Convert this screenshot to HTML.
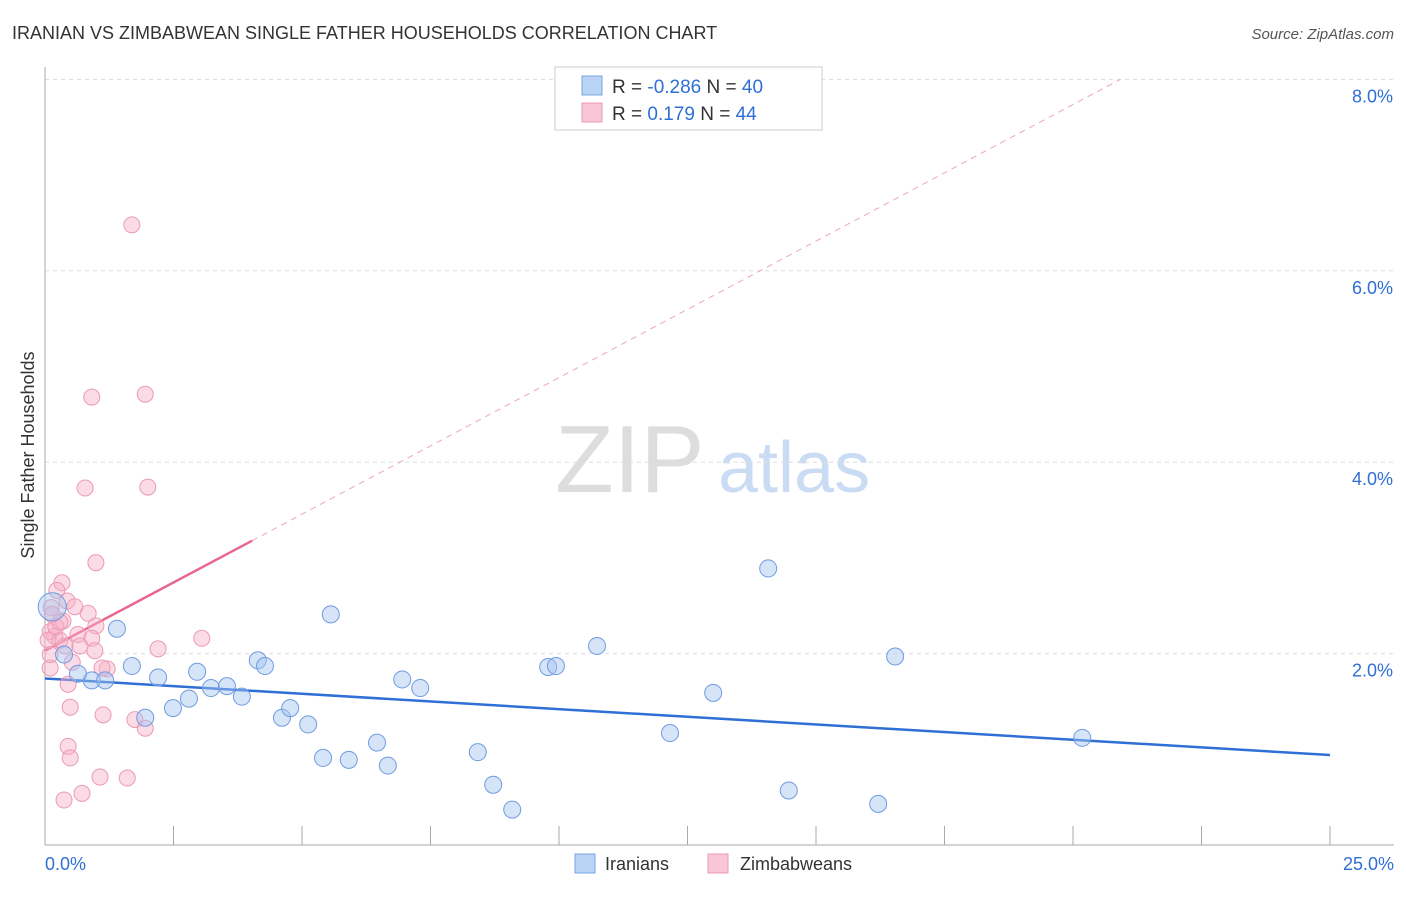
<!DOCTYPE html>
<html><head><meta charset="utf-8"><style>
body{margin:0;background:#fff;font-family:"Liberation Sans",sans-serif}
svg text{font-family:"Liberation Sans",sans-serif}
</style></head><body>
<svg id="c" width="1406" height="892">
<text x="12" y="39" font-size="18" fill="#333">IRANIAN VS ZIMBABWEAN SINGLE FATHER HOUSEHOLDS CORRELATION CHART</text>
<text x="1394" y="39" font-size="15" fill="#555" text-anchor="end" font-style="italic">Source: ZipAtlas.com</text>
<text x="34" y="455" font-size="18" fill="#333" transform="rotate(-90 34 455)" text-anchor="middle">Single Father Households</text>
<g><text x="555" y="492" font-size="96" fill="#ddd" font-family="Liberation Serif,serif">ZIP</text><text x="718" y="492" font-size="72" fill="#c9dcf3">atlas</text></g>
<g id="grid"></g><g id="axes"></g><g id="lines"></g><g id="pts"></g>
<g>
<rect x="555" y="67" width="267" height="63" fill="#fff" stroke="#ccc"/>
<rect x="582" y="76" width="20" height="19" fill="#b9d3f5" stroke="#7aa5e3"/>
<rect x="582" y="103" width="20" height="19" fill="#f9c6d6" stroke="#eb9ab4"/>
<text x="612" y="93" font-size="19" fill="#333">R = <tspan fill="#2f6fd6">-0.286</tspan>   N = <tspan fill="#2f6fd6">40</tspan></text>
<text x="612" y="120" font-size="19" fill="#333">R =   <tspan fill="#2f6fd6">0.179</tspan>   N = <tspan fill="#2f6fd6">44</tspan></text>
</g>
<g>
<rect x="575" y="854" width="20" height="19" fill="#b9d3f5" stroke="#7aa5e3"/>
<text x="605" y="870" font-size="18" fill="#333">Iranians</text>
<rect x="708" y="854" width="20" height="19" fill="#f9c6d6" stroke="#eb9ab4"/>
<text x="740" y="870" font-size="18" fill="#333">Zimbabweans</text>
</g>
</svg>
<script>
const blueX=[0.14,0.37,0.91,1.17,1.40,1.69,1.95,2.20,2.49,2.80,2.96,3.23,3.54,3.83,4.14,4.28,4.61,4.77,5.12,5.41,5.56,5.91,6.46,6.67,6.95,7.30,8.42,8.72,9.09,9.79,9.94,10.74,12.16,13.00,14.07,14.47,16.21,16.54,20.18,0.64];
const blueY=[2.49,1.99,1.72,1.72,2.26,1.87,1.33,1.75,1.43,1.53,1.81,1.64,1.66,1.55,1.93,1.87,1.33,1.43,1.26,0.91,2.41,0.89,1.07,0.83,1.73,1.64,0.97,0.63,0.37,1.86,1.87,2.08,1.17,1.59,2.89,0.57,0.43,1.97,1.12,1.79];
const pinkX=[1.69,1.95,0.91,0.78,2.00,0.99,0.33,0.23,0.43,0.12,0.84,0.35,0.99,0.10,0.19,0.29,0.64,0.91,0.39,0.68,0.97,2.20,3.05,0.53,0.10,1.21,0.45,0.49,1.13,1.75,1.95,0.45,0.49,1.07,1.60,0.72,0.37,0.06,0.21,0.10,1.11,0.29,0.14,0.58];
const pinkY=[6.48,4.71,4.68,3.73,3.74,2.95,2.74,2.66,2.55,2.48,2.42,2.34,2.29,2.23,2.18,2.14,2.20,2.16,2.08,2.08,2.03,2.05,2.16,1.91,1.85,1.84,1.68,1.44,1.36,1.31,1.22,1.03,0.91,0.71,0.70,0.54,0.47,2.14,2.28,1.99,1.85,2.33,2.41,2.49];
const yTicks=[2,4,6,8];
const xTickLabels=["0.0%","25.0%"];
const blueTrend=[1.74,0.94];
const pinkTrend=[2.03,3.18];
const X=v=>45+v*51.4, Y=v=>845-v*95.7;
const NS="http://www.w3.org/2000/svg";
function mk(p,t,a){const e=document.createElementNS(NS,t);for(const k in a)e.setAttribute(k,a[k]);document.getElementById(p).appendChild(e);return e;}
yTicks.forEach(t=>{
 const l=mk('grid','line',{x1:45,x2:1394,y1:Y(t),y2:Y(t),stroke:'#ddd','stroke-dasharray':'4,4'});
 
 
 const tx=mk('grid','text',{x:1393,y:Y(t)+23,'font-size':18,fill:'#2f6fd6','text-anchor':'end'});tx.textContent=t.toFixed(1)+'%';
 
 
});
const ax=mk('axes','line',{x1:45,x2:45,y1:67,y2:845,stroke:'#aaa'});


const bx=mk('axes','line',{x1:45,x2:1394,y1:845,y2:845,stroke:'#aaa'});


for(let i=0;i<=10;i++){const t=mk('axes','line',{x1:X(i*2.5),x2:X(i*2.5),y1:826,y2:845,stroke:'#aaa'});
 
 }
const l0=mk('axes','text',{x:45,y:870,'font-size':18,fill:'#2f6fd6'});l0.textContent=xTickLabels[0];


const l1=mk('axes','text',{x:1394,y:870,'font-size':18,fill:'#2f6fd6','text-anchor':'end'});l1.textContent=xTickLabels[1];


// pink trend
const ps=(pinkTrend[1]-pinkTrend[0])/4.03;
const xEnd=(8-pinkTrend[0])/ps;
const pd=mk('lines','line',{x1:X(4.03),y1:Y(pinkTrend[1]),x2:X(xEnd),y2:Y(8),stroke:'#eda5bc','stroke-dasharray':'6,5'});


const pl=mk('lines','line',{x1:X(0),y1:Y(pinkTrend[0]),x2:X(4.03),y2:Y(pinkTrend[1]),stroke:'#e8678f','stroke-width':2.5});


const bl=mk('lines','line',{x1:X(0),y1:Y(blueTrend[0]),x2:X(25),y2:Y(blueTrend[1]),stroke:'#2f6fd6','stroke-width':2.5});


pinkX.forEach((x,i)=>{const c=mk('pts','circle',{cx:X(x),cy:Y(pinkY[i]),r:8,fill:'rgba(246,178,200,0.45)',stroke:'#eb9ab4','stroke-width':1});
 
 });
blueX.forEach((x,i)=>{const c=mk('pts','circle',{cx:X(x),cy:Y(blueY[i]),r:i==0?14:8.5,fill:'rgba(164,196,240,0.45)',stroke:'#6f9be0','stroke-width':1});
 
 });
</script>
</body></html>
